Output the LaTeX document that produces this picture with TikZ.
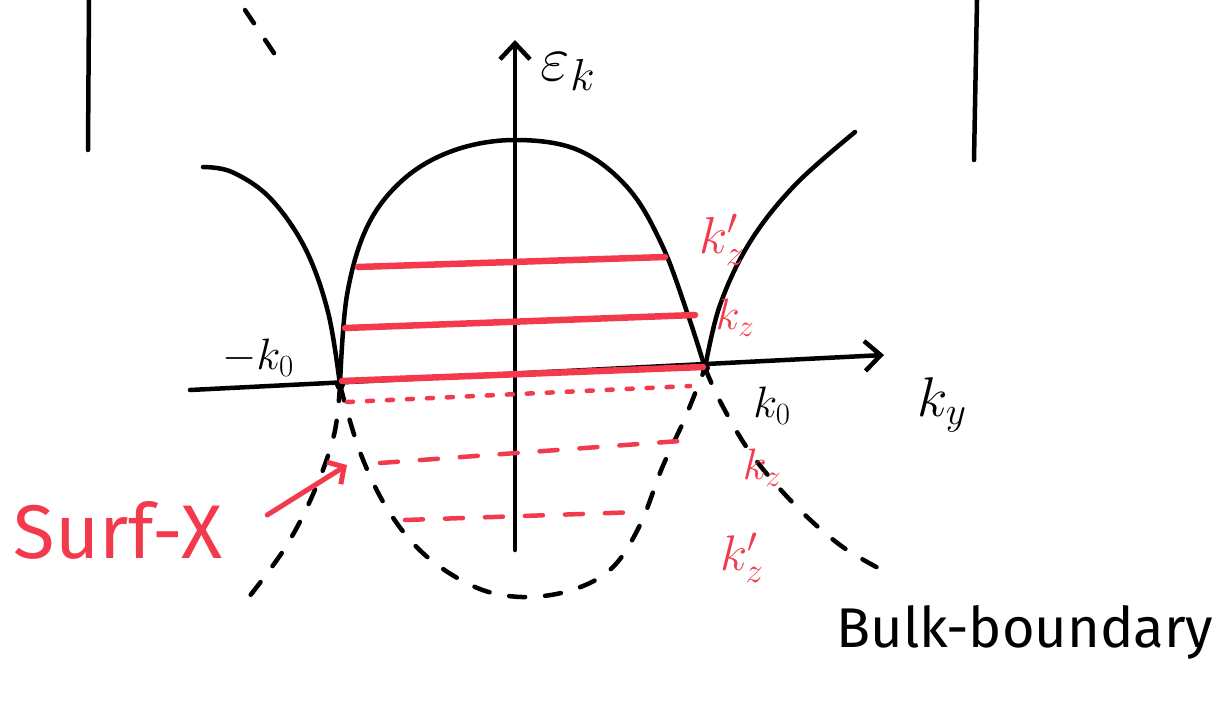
\RequirePackage{fix-cm}
\documentclass[tikz,border=0pt]{standalone}
\usepackage{fontspec}
\setmainfont{Fira Sans}
\usetikzlibrary{positioning,arrows.meta}
\definecolor{sketchRed}{HTML}{F23A4C}
\tikzset{
  ink/.style={line width=4.5pt, line cap=round, black},
  inkd/.style={ink, dash pattern=on 16pt off 20pt},
  rink/.style={line width=6.5pt, line cap=round, sketchRed},
  rdash/.style={line width=4.5pt, line cap=round, sketchRed, dash pattern=on 18pt off 22pt},
  rdot/.style={line width=4.5pt, line cap=round, sketchRed, dash pattern=on 6pt off 14pt},
  ax/.style={ink, -{Straight Barb[length=16pt, width=30pt, line width=4.5pt]}},
  lbl/.style={inner sep=0pt, font=\fontsize{44}{48}\selectfont},
  rlbl/.style={lbl, text=sketchRed},
}
\begin{document}
\begin{tikzpicture}[x=1pt, y=-1pt]
  \useasboundingbox (0,0) rectangle (1227,702);
  % frame bits
  \coordinate (fl1) at (89,0);  \coordinate (fl2) at (88,150);
  \coordinate (fr1) at (977,0); \coordinate (fr2) at (974,160);
  \coordinate (d1) at (245,10); \coordinate (d2) at (280,62);
  \draw[ink] (fl1) -- (fl2);
  \draw[ink] (fr1) -- (fr2);
  \draw[inkd] (d1) -- (d2);
  % axes
  \coordinate (vb) at (515,550); \coordinate (vt) at (515,40);
  \coordinate (hl) at (190,390); \coordinate (hr) at (884,355);
  \draw[ax] (vb) -- (vt);
  \draw[ax] (hl) -- (hr);
  \coordinate (kl) at (340,385);
  \coordinate (kr) at (705,368);
  % bulk bands
  \draw[ink] plot[smooth, tension=0.6] coordinates {(203,167) (232,172) (270,198) (305,248) (328,312) (kl)};
  \draw[ink] plot[smooth, tension=0.6] coordinates {(kl) (347,295) (368,225) (405,178) (455,150) (515,140) (578,150) (628,188) (662,245) (688,315) (kr)};
  \draw[ink] plot[smooth, tension=0.6] coordinates {(kr) (720,305) (750,242) (795,185) (855,132)};
  % continuation below
  \draw[inkd] plot[smooth, tension=0.6] coordinates {(kl) (334,435) (314,492) (285,548) (245,602)};
  \draw[inkd] plot[smooth, tension=0.6] coordinates {(kl) (360,452) (388,510) (425,555) (475,587) (522,597) (572,590) (612,568) (640,525) (662,468) (685,418) (kr)};
  \draw[inkd] plot[smooth, tension=0.6] coordinates {(kr) (722,405) (752,455) (795,505) (840,545) (882,570)};
  \fill (kl) circle (5pt);
  \fill (kr) circle (5pt);
  % surface lines
  \coordinate (a1) at (358,267); \coordinate (a2) at (665,257);
  \coordinate (b1) at (345,328); \coordinate (b2) at (695,315);
  \coordinate (c1) at (342,381); \coordinate (c2) at (703,367);
  \draw[rink] (a1) -- (a2);
  \draw[rink] (b1) -- (b2);
  \draw[rink] (c1) -- (c2);
  \coordinate (e1) at (347,402); \coordinate (e2) at (690,386);
  \coordinate (f1) at (380,463); \coordinate (f2) at (680,441);
  \coordinate (g1) at (405,520); \coordinate (g2) at (640,512);
  \draw[rdot] (e1) -- (e2);
  \draw[rdash] (f1) -- (f2);
  \draw[rdash] (g1) -- (g2);
  % labels
  \node[lbl, font=\fontsize{64}{68}\selectfont] (ek) at (568,72) {$\varepsilon_k$};
  \node[lbl, font=\fontsize{56}{60}\selectfont] (ky) at (942,405) {$k_y$};
  \node[lbl] (mk0) at (258,358) {$-k_0$};
  \node[lbl] (k0) at (772,406) {$k_0$};
  \node[rlbl, font=\fontsize{52}{56}\selectfont] (kz1) at (722,240) {$k_z'$};
  \node[rlbl] (kz2) at (735,318) {$k_z$};
  \node[rlbl] (kz3) at (762,468) {$k_z$};
  \node[rlbl, font=\fontsize{50}{54}\selectfont] (kz4) at (742,558) {$k_z'$};
  \node[rlbl, font=\fontsize{76}{80}\selectfont] (surf) at (118,530) {Surf-X};
  \node[lbl, font=\fontsize{56}{60}\selectfont] (bulk) at (1025,632) {Bulk-boundary};
  \coordinate (tip) at (347,465);
  \draw[rink, line width=5pt, -{Straight Barb[length=12pt, width=26pt, line width=5pt]}] (surf.east) ++(45,-15) coordinate (tail) -- (tip);
\end{tikzpicture}
\end{document}
